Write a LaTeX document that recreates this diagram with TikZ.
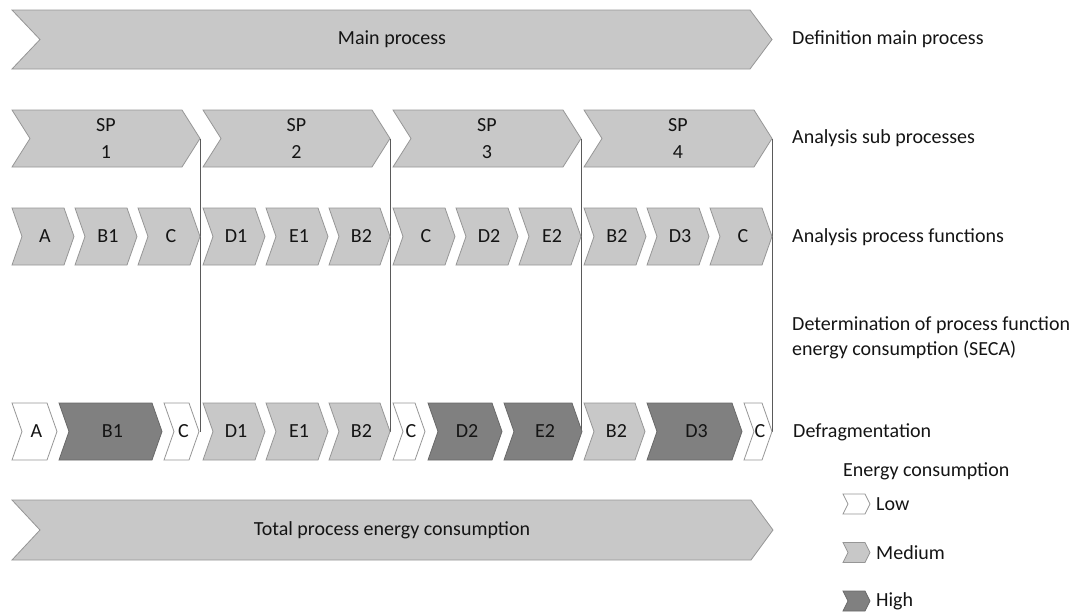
\documentclass[tikz,border=0pt]{standalone}
\usepackage{fontspec}
\setmainfont{Carlito}
\usetikzlibrary{positioning}
\definecolor{medfill}{RGB}{200,200,200}
\definecolor{highfill}{RGB}{128,128,128}
\definecolor{rimgray}{RGB}{150,150,150}
\definecolor{cutgray}{RGB}{90,90,90}
\definecolor{inkgray}{RGB}{20,20,20}

\begin{document}
\begin{tikzpicture}[x=1pt, y=-1pt, font=\fontsize{20}{24}\selectfont, text=inkgray,
  low/.style={fill=white, draw=rimgray, line width=0.8pt},
  med/.style={fill=medfill, draw=rimgray, line width=0.8pt},
  high/.style={fill=highfill, draw=rimgray!70!black, line width=0.8pt},
  lbl/.style={anchor=west, inner sep=0pt}]
  \useasboundingbox (0,0) rectangle (1085,613);
  % Main process
  \draw[med] (12,10) -- (750,10) -- (772,39.5) -- (750,69) -- (12,69) -- (40,39.5) -- cycle;
  \node (main) at (392,39.5) {Main process};
  % Sub processes
  \foreach \i/\xa/\xb in {1/12/200, 2/203/390, 3/393/581, 4/584/772}{
    \draw[med] (\xa,110) -- (\xb-18,110) -- (\xb,138.5) -- (\xb-18,167)
               -- (\xa,167) -- (\xa+18,138.5) -- cycle;
    \node[align=center, font=\fontsize{20}{27}\selectfont] (sp\i) at ({(\xa+\xb)/2},138.5) {SP\\\i};
    \coordinate (sp\i tip) at (\xb,138.5);
    \coordinate (cut\i) at (\xb,431.5);
  }
  % Separators
  \foreach \i in {1,...,4}
    \draw[cutgray, line width=0.8pt] (sp\i tip) -- (cut\i);
  % Process functions
  \foreach \i/\lab/\xa/\xb in {
    1/A/12/74, 2/B1/75/137, 3/C/138/200,
    4/D1/203/265, 5/E1/266/328, 6/B2/329/390,
    7/C/393/455, 8/D2/456/518, 9/E2/519/581,
    10/B2/584/646, 11/D3/647/709, 12/C/710/772}{
    \draw[med] (\xa,208) -- (\xb-10,208) -- (\xb,236.5) -- (\xb-10,265)
               -- (\xa,265) -- (\xa+10,236.5) -- cycle;
    \node (fn\i) at ({(\xa+\xb)/2+2},236.5) {\lab};
  }
  % Defragmentation
  \foreach \i/\lab/\xa/\xb/\lvl in {
    1/A/12/57/low, 2/B1/59/162/high, 3/C/164/199/low,
    4/D1/203/265/med, 5/E1/266/328/med, 6/B2/329/390/med,
    7/C/393/425/low, 8/D2/428/502/high, 9/E2/504/582/high,
    10/B2/584/645/med, 11/D3/647/742/high, 12/C/744/772/low}{
    \draw[\lvl] (\xa,403) -- (\xb-10,403) -- (\xb,431.5) -- (\xb-10,460)
               -- (\xa,460) -- (\xa+10,431.5) -- cycle;
    \node (df\i) at ({(\xa+\xb)/2+2},431.5) {\lab};
  }
  % Total
  \draw[med] (12,500) -- (751,500) -- (773,530) -- (751,560) -- (12,560) -- (40,530) -- cycle;
  \node (total) at (392,530) {Total process energy consumption};
  % Step labels
  \node[lbl] (lmain) at (792,39.5) {Definition main process};
  \node[lbl] (lsub) at (792,138.5) {Analysis sub processes};
  \node[lbl] (lfun) at (792,237) {Analysis process functions};
  \node[lbl, align=left, font=\fontsize{20}{25}\selectfont] (lseca) at (792,337.5)
    {Determination of process function\\energy consumption (SECA)};
  \node[lbl] (ldef) at (793,432) {Defragmentation};
  % Legend
  \node[lbl] (leg) at (843,471) {Energy consumption};
  \foreach \lvl/\lab/\ym in {low/Low/504, med/Medium/552.5, high/High/601}{
    \draw[\lvl] (843,\ym-10) -- (865,\ym-10) -- (870,\ym) -- (865,\ym+10)
                -- (843,\ym+10) -- (848,\ym) -- cycle;
    \node[lbl] (leg\lab) at (876,\ym) {\lab};
  }
\end{tikzpicture}
\end{document}
